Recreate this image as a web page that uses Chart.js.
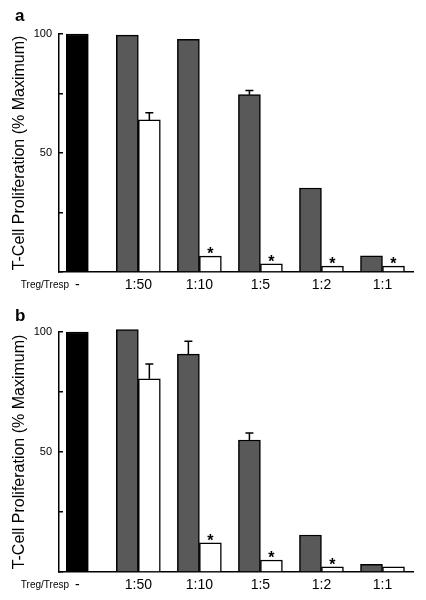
<!DOCTYPE html>
<html>
<head>
<meta charset="utf-8">
<script src="https://cdn.jsdelivr.net/npm/chart.js@4.4.1/dist/chart.umd.min.js"></script>
<style>
  body { margin: 0; background: #fff; }
  canvas { display: block; }
</style>
</head>
<body>
<canvas id="chartA" width="426" height="300"></canvas>
<canvas id="chartB" width="426" height="300"></canvas>
<script>
const categories = ['-', '1:50', '1:10', '1:5', '1:2', '1:1']

// panel a
const controlA = [100, null, null, null, null, null]
const grayA = [null, 99.5, 97.8, 74.5, 35.3, 6.8]
const grayErrA = [0, 0, 0, 1.8, 0, 0]
const whiteA = [null, 63.9, 6.7, 3.4, 2.5, 2.5]
const whiteErrA = [0, 3, 0, 0, 0, 0]
const starsA = [false, false, true, true, true, true]

// panel b
const controlB = [100, null, null, null, null, null]
const grayB = [null, 101, 90.8, 55, 15.4, 3.2]
const grayErrB = [0, 0, 5.3, 2.9, 0, 0]
const whiteB = [null, 80.5, 12.2, 5, 2.2, 2.2]
const whiteErrB = [0, 6.2, 0, 0, 0, 0]
const starsB = [false, false, true, true, true, false]

const FONT = "'Liberation Sans', Arial, Helvetica, sans-serif"
Chart.defaults.font.family = FONT
Chart.defaults.color = '#000'

const toPoints = (arr) => arr.map((v, i) => ({ x: i, y: v }))

const markers = {
  id: 'markers',
  afterDatasetsDraw (chart) {
    const { ctx } = chart
    const yScale = chart.scales.y
    ctx.save()
    ctx.strokeStyle = '#000'
    ctx.lineWidth = 1.5
    chart.data.datasets.forEach((ds, di) => {
      const meta = chart.getDatasetMeta(di)
      if (ds.errors) {
        ds.errors.forEach((e, i) => {
          if (!e) return
          const bar = meta.data[i]
          const top = yScale.getPixelForValue(ds.data[i].y + e)
          ctx.beginPath()
          ctx.moveTo(bar.x, bar.y)
          ctx.lineTo(bar.x, top)
          ctx.moveTo(bar.x - 4, top)
          ctx.lineTo(bar.x + 4, top)
          ctx.stroke()
        })
      }
      if (ds.stars) {
        ctx.fillStyle = '#000'
        ctx.font = 'bold 16px ' + FONT
        ctx.textAlign = 'center'
        ctx.textBaseline = 'alphabetic'
        ds.stars.forEach((s, i) => {
          if (!s) return
          const bar = meta.data[i]
          ctx.fillText('*', bar.x, bar.y + 3)
        })
      }
    })
    ctx.restore()
  },
  afterDraw (chart, args, opts) {
    const { ctx } = chart
    ctx.save()
    ctx.fillStyle = '#000'
    ctx.font = 'bold 17px ' + FONT
    ctx.textAlign = 'left'
    ctx.textBaseline = 'alphabetic'
    ctx.fillText(opts.panel, 15, 21)
    ctx.font = '10px ' + FONT
    ctx.textAlign = 'right'
    ctx.textBaseline = 'middle'
    ctx.fillText('Treg/Tresp', 69, 285)
    ctx.restore()
  }
}

function makeChart (id, panel, top, control, gray, grayErr, white, whiteErr, stars) {
  const barStyle = {
    borderColor: '#000',
    borderWidth: 1.5,
    barThickness: 22,
    skipNull: true,
    clip: false
  }
  return new Chart(document.getElementById(id), {
    type: 'bar',
    data: {
      datasets: [
        { ...barStyle, label: 'control', data: toPoints(control), backgroundColor: '#000' },
        { ...barStyle, label: 'gray', data: toPoints(gray), backgroundColor: '#595959', errors: grayErr },
        { ...barStyle, label: 'white', data: toPoints(white), backgroundColor: '#fff', errors: whiteErr, stars: stars }
      ]
    },
    options: {
      responsive: false,
      animation: false,
      devicePixelRatio: 1,
      layout: { padding: { top: top, right: 13, left: 0, bottom: 0 } },
      plugins: {
        legend: { display: false },
        tooltip: { enabled: false },
        markers: { panel: panel }
      },
      scales: {
        x: {
          type: 'linear',
          min: -0.3,
          max: 5.5,
          offset: false,
          afterBuildTicks: (s) => { s.ticks = categories.map((c, i) => ({ value: i })) },
          afterFit: (s) => { s.height = 28 },
          border: { color: '#000', width: 1.5 },
          grid: { drawOnChartArea: false, drawTicks: false, offset: false },
          ticks: {
            padding: 5,
            autoSkip: false,
            maxRotation: 0,
            color: '#000',
            font: { size: 14 },
            callback: (v) => categories[v]
          }
        },
        y: {
          min: 0,
          max: 100,
          afterFit: (s) => { s.width = 59 },
          border: { color: '#000', width: 1.5 },
          // negative length draws the small ticks inward, as in the figure
          grid: { drawOnChartArea: false, color: '#000', tickLength: -4, lineWidth: 1.5 },
          ticks: {
            stepSize: 25,
            padding: 11,
            color: '#000',
            font: { size: 11 },
            callback: (v) => (v === 50 || v === 100) ? v : ''
          },
          title: {
            display: true,
            text: 'T-Cell Proliferation (% Maximum)',
            color: '#000',
            font: { size: 16 },
            padding: { top: 10, bottom: 0 }
          }
        }
      }
    },
    plugins: [markers]
  })
}

makeChart('chartA', 'a', 34, controlA, grayA, grayErrA, whiteA, whiteErrA, starsA)
makeChart('chartB', 'b', 32, controlB, grayB, grayErrB, whiteB, whiteErrB, starsB)
</script>
</body>
</html>
